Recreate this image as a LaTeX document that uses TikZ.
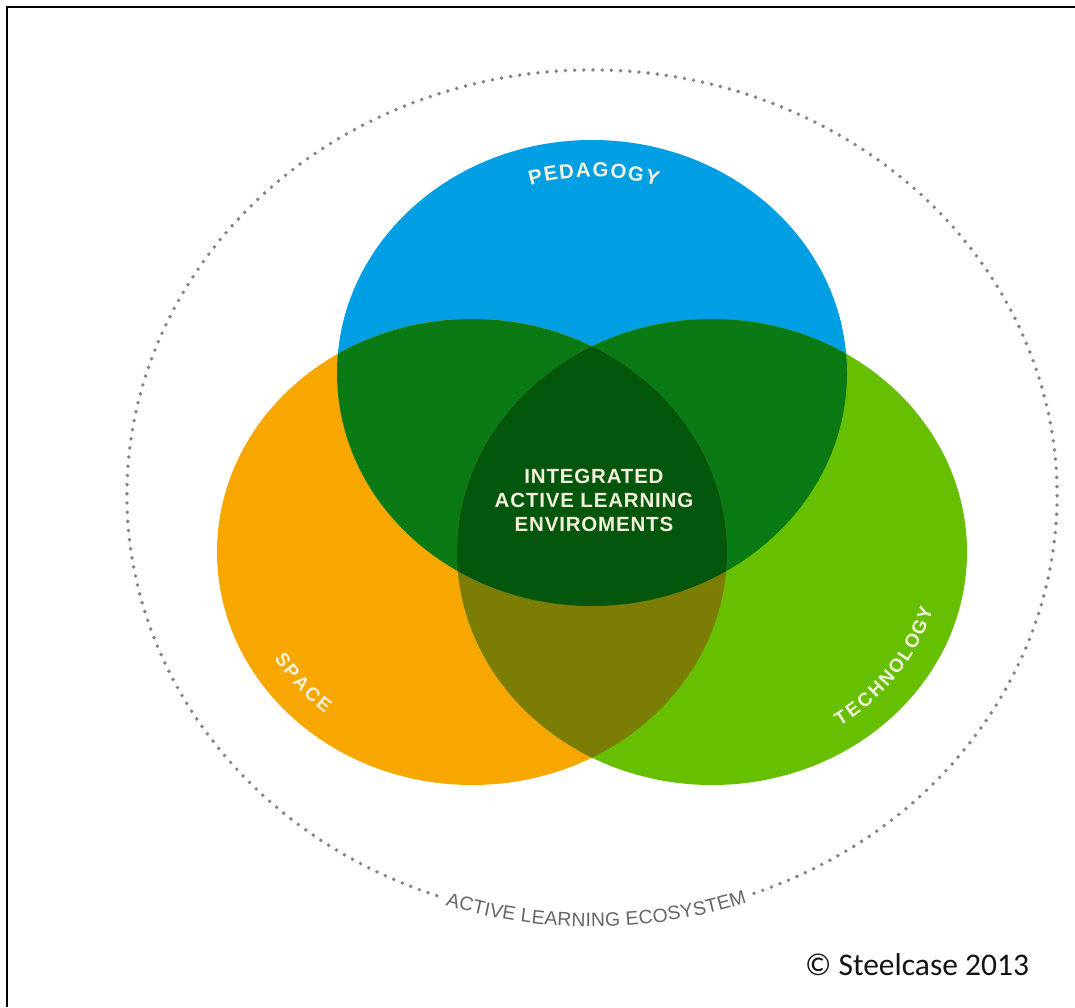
\documentclass[tikz,border=0pt]{standalone}
\usepackage{fontspec}
\setmainfont{Liberation Sans}
\newfontfamily\calfont{Carlito}
\definecolor{pedblue}{HTML}{009FE3}
\definecolor{spaceorange}{HTML}{F8A700}
\definecolor{techgreen}{HTML}{66BF00}
\definecolor{lensgreen}{HTML}{0A7A14}
\definecolor{olivelens}{HTML}{7B7D05}
\definecolor{coregreen}{HTML}{03560C}
\definecolor{labelc}{HTML}{F4F2DC}
\definecolor{dotgray}{HTML}{858585}
\definecolor{ecogray}{HTML}{666666}
\newcommand\pedfont{\bfseries\fontsize{20.5}{20.5}\selectfont}
\newcommand\spacefont{\bfseries\fontsize{19}{19}\selectfont}
\newcommand\techfont{\bfseries\fontsize{19}{19}\selectfont}
\newcommand\ecofont{\fontsize{19.4}{19.4}\selectfont}
\tikzset{
  pedletter/.style={font=\pedfont, text=labelc, inner sep=0pt, anchor=base},
  spaceletter/.style={font=\spacefont, text=labelc, inner sep=0pt, anchor=base},
  techletter/.style={font=\techfont, text=labelc, inner sep=0pt, anchor=base},
  ecoletter/.style={font=\ecofont, text=ecogray, inner sep=0pt, anchor=center},
  dotline/.style={dotgray, line width=3.9pt, line cap=round, dash pattern=on 0pt off 9.2pt},
}
\begin{document}
\begin{tikzpicture}[x=1pt,y=1pt]
\useasboundingbox (0,0) rectangle (1075,1007);
\fill[white] (0,0) rectangle (1075,1007);
% frame
\coordinate (fbl) at (7,0);
\coordinate (ftl) at (7,1000);
\coordinate (ftr) at (1075,1000);
\draw[line width=2.2pt] (fbl) -- (ftl) -- (ftr);
% ecosystem dotted ellipse
\draw[dotline] ([shift={(290.4:465 and 425)}]592,512) arc[start angle=290.4, end angle=611.3, x radius=465, y radius=425];
\foreach \ch/\t [count=\i] in {A/252.67, C/254.34, T/255.94, I/257.0, V/258.14, E/259.74, L/261.88, E/263.35, A/264.95, R/266.62, N/268.35, I/269.55, N/270.75, G/272.55, E/274.95, C/276.62, O/278.42, S/280.16, Y/281.76, S/283.36, T/284.9, E/286.43, M/288.23}
  \node[ecoletter, rotate={atan2(425*cos(\t), -465*sin(\t))}] (eco\i) at ([shift={(\t:465 and 425)}]592,512) {\ch};
% three circles
\fill[pedblue] (592,634) ellipse[x radius=255, y radius=233];
\fill[spaceorange] (472,455) ellipse[x radius=255, y radius=233];
\fill[techgreen] (712,455) ellipse[x radius=255, y radius=233];
% overlaps
\begin{scope}
  \clip (592,634) ellipse[x radius=255, y radius=233];
  \fill[lensgreen] (472,455) ellipse[x radius=255, y radius=233];
  \fill[lensgreen] (712,455) ellipse[x radius=255, y radius=233];
\end{scope}
\begin{scope}
  \clip (472,455) ellipse[x radius=255, y radius=233];
  \fill[olivelens] (712,455) ellipse[x radius=255, y radius=233];
\end{scope}
\begin{scope}
  \clip (592,634) ellipse[x radius=255, y radius=233];
  \clip (472,455) ellipse[x radius=255, y radius=233];
  \fill[coregreen] (712,455) ellipse[x radius=255, y radius=233];
\end{scope}
% labels
\foreach \ch/\t [count=\i] in {P/104.9, E/100.83, D/96.62, A/92.26, G/87.76, O/83.1, G/78.47, Y/74.1}
  \node[pedletter, rotate={atan2(-196*cos(\t), 214*sin(\t))}] (ped\i) at ([shift={(\t:214 and 196)}]592,634) {\ch};
\foreach \ch/\t [count=\i] in {S/212.2, P/216.15, A/220.2, C/224.4, E/228.5}
  \node[spaceletter, rotate={atan2(209.7*cos(\t), -229.5*sin(\t))}] (spc\i) at ([shift={(\t:229.5 and 209.7)}]472,455) {\ch};
\foreach \ch/\t [count=\i] in {T/305.35, E/309.11, C/313.15, H/317.32, N/321.49, O/325.81, L/329.84, O/333.87, G/338.33, Y/342.5}
  \node[techletter, rotate={atan2(209.7*cos(\t), -229.5*sin(\t))}] (tec\i) at ([shift={(\t:229.5 and 209.7)}]712,455) {\ch};
\node[align=center, text=labelc, font=\bfseries\fontsize{20.5}{24}\selectfont\addfontfeature{LetterSpace=4}] (core) at (594,507) {INTEGRATED\\ACTIVE LEARNING\\ENVIROMENTS};
\node[anchor=base west, font=\calfont\fontsize{31.5}{31.5}\selectfont, text=black!92, inner sep=0pt] (copy) at (805,32) {© Steelcase 2013};
\end{tikzpicture}
\end{document}
